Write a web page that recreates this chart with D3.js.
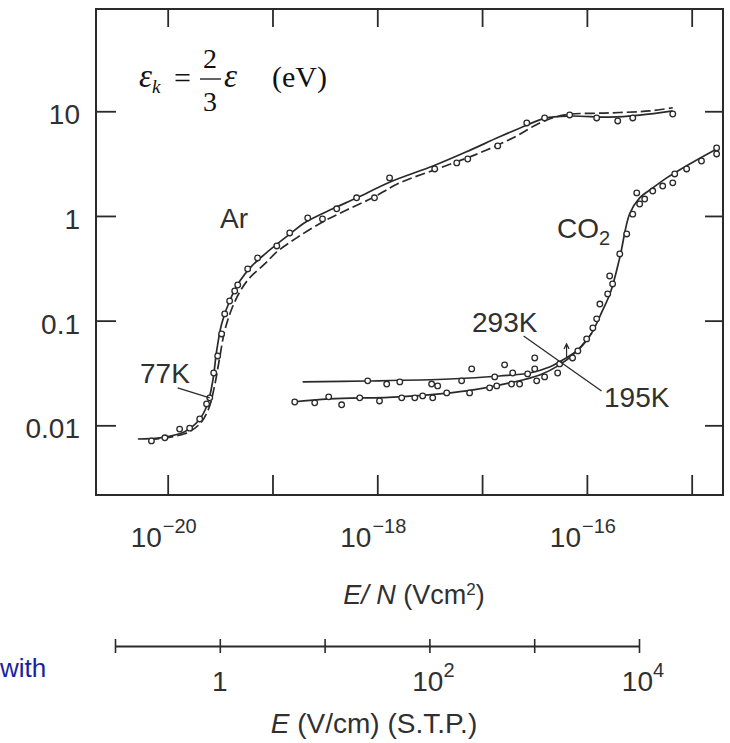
<!DOCTYPE html>
<html>
<head>
<meta charset="utf-8">
<script src="https://cdn.jsdelivr.net/npm/d3@7"></script>
<style>
  body { margin: 0; background: #fff; }
  svg { display: block; }
  text { font-family: "Liberation Sans", Arial, Helvetica, sans-serif; fill: #303030; }
  .serif { font-family: "Liberation Serif", "Times New Roman", serif; fill: #111; }
</style>
</head>
<body>
<svg id="chart" width="730" height="743"></svg>
<script>
// ---- axis ticks and labels ----
const enTicks = [1e-20, 1e-19, 1e-18, 1e-17, 1e-16, 1e-15];
const enLabels = [
  { v: 1e-20, exp: "\u221220" },
  { v: 1e-18, exp: "\u221218" },
  { v: 1e-16, exp: "\u221216" }
];
const epsTicks = [0.01, 0.1, 1, 10];
const epsLabels = ["0.01", "0.1", "1", "10"];
const fieldTicks = [0.1, 1, 10, 100, 1000, 1e4];
const fieldLabels = [
  { v: 1, base: "1", exp: "" },
  { v: 100, base: "10", exp: "2" },
  { v: 1e4, base: "10", exp: "4" }
];

// ---- Ar: mean energy vs E/N ----
const arSolid = [
  [5.2e-21, 0.0074], [8.4e-21, 0.0076], [1.45e-20, 0.0087], [2.0e-20, 0.0113],
  [2.4e-20, 0.016], [2.7e-20, 0.027], [2.93e-20, 0.051], [3.27e-20, 0.093],
  [3.9e-20, 0.154], [4.9e-20, 0.24], [6.3e-20, 0.33], [8.4e-20, 0.43],
  [1.46e-19, 0.67], [2.1e-19, 0.88], [3.75e-19, 1.17], [6.4e-19, 1.49],
  [1.31e-18, 2.1], [3.4e-18, 3.0], [7.1e-18, 4.1], [1.47e-17, 5.7],
  [2.7e-17, 7.4], [4.0e-17, 8.6], [6.9e-17, 9.0], [1.65e-16, 8.8],
  [3.2e-16, 9.2], [6.6e-16, 10.1]
];
const arDashed = [
  [6.7e-21, 0.0073], [1.45e-20, 0.0083], [2.02e-20, 0.0103], [2.46e-20, 0.0144],
  [2.8e-20, 0.0238], [3.13e-20, 0.044], [3.5e-20, 0.080], [4.08e-20, 0.129],
  [4.87e-20, 0.188], [6.05e-20, 0.256], [8.43e-20, 0.348], [1.1e-19, 0.453],
  [1.7e-19, 0.617], [3.01e-19, 0.877], [5.1e-19, 1.14], [9.0e-19, 1.49],
  [1.64e-18, 2.07], [3.94e-18, 2.87], [9.5e-18, 4.0], [2.05e-17, 5.68],
  [3.55e-17, 7.73], [6.14e-17, 9.22], [1.65e-16, 9.64], [3.97e-16, 10.07],
  [6.6e-16, 10.8]
];
const arPoints = [
  [7.0e-21, 0.0071], [9.4e-21, 0.0076], [1.3e-20, 0.0092], [1.62e-20, 0.0094],
  [2.02e-20, 0.0115], [2.35e-20, 0.016], [2.52e-20, 0.0183], [2.75e-20, 0.0316],
  [3.0e-20, 0.046], [3.27e-20, 0.0746], [3.5e-20, 0.116], [3.9e-20, 0.154],
  [4.36e-20, 0.192], [4.66e-20, 0.219], [5.8e-20, 0.312], [7.2e-20, 0.397],
  [1.1e-19, 0.517], [1.46e-19, 0.688], [2.17e-19, 0.957], [3.0e-19, 0.936],
  [4.1e-19, 1.17], [6.35e-19, 1.49], [9.4e-19, 1.49], [1.31e-18, 2.31],
  [3.53e-18, 2.81], [5.73e-18, 3.21], [7.3e-18, 3.5], [1.41e-17, 4.67],
  [2.67e-17, 7.73], [3.95e-17, 8.63], [6.85e-17, 9.22], [1.24e-16, 8.63],
  [1.97e-16, 8.08], [2.74e-16, 8.63], [6.6e-16, 9.42]
];

// ---- CO2 at 293 K and 195 K ----
const co2Curve293 = [
  [1.94e-19, 0.026], [7.9e-19, 0.0265], [4.9e-18, 0.0277], [1.47e-17, 0.0296],
  [2.85e-17, 0.0316], [4.4e-17, 0.036], [6.1e-17, 0.043], [8.5e-17, 0.054],
  [1.11e-16, 0.076], [1.38e-16, 0.119], [1.69e-16, 0.19], [2.06e-16, 0.40],
  [2.56e-16, 1.05], [3.19e-16, 1.49], [4.25e-16, 1.85], [5.77e-16, 2.31],
  [9.57e-16, 3.14], [1.73e-15, 4.37]
];
const co2Curve195 = [
  [1.56e-19, 0.0167], [3.5e-19, 0.0179], [1.64e-18, 0.0187], [7.1e-18, 0.0213],
  [1.83e-17, 0.0254], [3.55e-17, 0.0303], [5.5e-17, 0.0378], [7.65e-17, 0.049],
  [1.0e-16, 0.066], [1.11e-16, 0.076]
];
const co2Points293 = [
  [8.1e-19, 0.0266], [1.23e-18, 0.0248], [1.64e-18, 0.026], [3.3e-18, 0.0248],
  [3.77e-18, 0.0238], [6.38e-18, 0.0266], [7.96e-18, 0.0346], [1.32e-17, 0.029],
  [1.64e-17, 0.0378], [1.96e-17, 0.0316], [2.72e-17, 0.031], [3.18e-17, 0.0346],
  [3.18e-17, 0.044], [5.5e-17, 0.0386]
];
const co2Points195 = [
  [1.63e-19, 0.0167], [2.53e-19, 0.0164], [3.44e-19, 0.0187], [4.57e-19, 0.0157],
  [6.8e-19, 0.0183], [1.05e-18, 0.0171], [1.71e-18, 0.0183], [2.28e-18, 0.0183],
  [2.71e-18, 0.0191], [3.38e-18, 0.0183], [4.6e-18, 0.0204], [7.6e-18, 0.0204],
  [1.18e-17, 0.0228], [1.38e-17, 0.0238], [1.91e-17, 0.0248], [2.28e-17, 0.0248],
  [3.32e-17, 0.0266], [3.95e-17, 0.029], [5.26e-17, 0.0316]
];
const co2PointsHigh = [
  [7.3e-17, 0.044], [8.2e-17, 0.0514], [9.95e-17, 0.0669], [1.14e-16, 0.0851],
  [1.24e-16, 0.104], [1.33e-16, 0.144], [1.58e-16, 0.18], [1.65e-16, 0.267],
  [1.76e-16, 0.224], [2.06e-16, 0.434], [2.4e-16, 0.673], [2.74e-16, 1.04],
  [2.99e-16, 1.66], [3.19e-16, 1.3], [3.56e-16, 1.45], [4.25e-16, 1.73],
  [5.29e-16, 1.93], [6.6e-16, 2.07], [6.89e-16, 2.52], [8.95e-16, 2.81],
  [1.24e-15, 3.35], [1.73e-15, 4.46], [1.73e-15, 3.91]
];

// leader lines for the temperature labels and the marker arrow (data units)
const leader77 = [[1.245e-20, 0.0228], [2.52e-20, 0.0183]];
const leaderCO2 = [[2.49e-17, 0.0714], [1.38e-16, 0.0213]];
const arrowCO2 = [[6.4e-17, 0.060], [6.4e-17, 0.045]];

// ---- layout ----
const svg = d3.select("#chart");
const ink = "#2a2a2a";
const plot = { left: 96, right: 723, top: 9, bottom: 495 };

const x = d3.scaleLog().domain([2.07e-21, 1.99e-15]).range([plot.left, plot.right]);
const y = d3.scaleLog().domain([0.00216, 94.8]).range([plot.bottom, plot.top]);
const xField = d3.scaleLog().domain([0.1, 1e4]).range([115, 639]);

// frame ticks, pointing inward on all four sides
function styleAxis(g) {
  g.select(".domain").remove();
  g.selectAll(".tick line").attr("stroke", ink).attr("stroke-width", 1.8);
  g.selectAll(".tick text").remove();
}
svg.append("g").attr("transform", `translate(0,${plot.top})`)
  .call(d3.axisBottom(x).tickValues(enTicks).tickSize(18).tickFormat(""))
  .call(styleAxis);
svg.append("g").attr("transform", `translate(0,${plot.bottom})`)
  .call(d3.axisTop(x).tickValues(enTicks).tickSize(20).tickFormat(""))
  .call(styleAxis);
svg.append("g").attr("transform", `translate(${plot.left},0)`)
  .call(d3.axisRight(y).tickValues(epsTicks).tickSize(20).tickFormat(""))
  .call(styleAxis);
svg.append("g").attr("transform", `translate(${plot.right},0)`)
  .call(d3.axisLeft(y).tickValues(epsTicks).tickSize(18).tickFormat(""))
  .call(styleAxis);

svg.append("rect")
  .attr("x", plot.left).attr("y", plot.top)
  .attr("width", plot.right - plot.left).attr("height", plot.bottom - plot.top)
  .attr("fill", "none").attr("stroke", ink).attr("stroke-width", 2);

// y tick labels
svg.append("g").selectAll("text")
  .data(epsTicks)
  .join("text")
  .attr("x", 80)
  .attr("y", d => y(d) + 13)
  .attr("text-anchor", "end")
  .attr("font-size", 28)
  .text((d, i) => epsLabels[i]);

// x tick labels (powers of ten)
const enLab = svg.append("g").selectAll("text")
  .data(enLabels)
  .join("text")
  .attr("x", d => x(d.v) - 4)
  .attr("y", 547)
  .attr("text-anchor", "middle")
  .attr("font-size", 28);
enLab.append("tspan").text("10");
enLab.append("tspan").attr("dy", -14).attr("dx", 1).attr("font-size", 20)
  .text(d => d.exp);

// x axis title
const enTitle = svg.append("text")
  .attr("x", 414).attr("y", 604)
  .attr("text-anchor", "middle").attr("font-size", 27);
enTitle.append("tspan").attr("font-style", "italic").text("E/ N");
enTitle.append("tspan").text(" (Vcm");
enTitle.append("tspan").attr("dy", -9).attr("font-size", 17).text("2");
enTitle.append("tspan").attr("dy", 9).text(")");

// secondary field scale
const fieldAxis = svg.append("g").attr("transform", "translate(0,646)")
  .call(d3.axisBottom(xField).tickValues(fieldTicks).tickSizeOuter(0).tickFormat(""));
fieldAxis.select(".domain").attr("stroke", ink).attr("stroke-width", 1.8);
fieldAxis.selectAll(".tick line")
  .attr("y1", -7).attr("y2", 7)
  .attr("stroke", ink).attr("stroke-width", 1.6);

const fLab = svg.append("g").selectAll("text")
  .data(fieldLabels)
  .join("text")
  .attr("x", d => xField(d.v) + (d.exp ? 4 : 0))
  .attr("y", 691)
  .attr("text-anchor", "middle")
  .attr("font-size", 28);
fLab.append("tspan").text(d => d.base);
fLab.append("tspan").attr("dy", -14).attr("font-size", 20).text(d => d.exp);

const fTitle = svg.append("text")
  .attr("x", 374).attr("y", 733)
  .attr("text-anchor", "middle").attr("font-size", 28);
fTitle.append("tspan").attr("font-style", "italic").text("E");
fTitle.append("tspan").text(" (V/cm) (S.T.P.)");

svg.append("text")
  .attr("x", 0).attr("y", 677)
  .attr("font-size", 26)
  .style("fill", "#1a1fa3")
  .text("with");

// ---- curves ----
const line = d3.line()
  .x(d => x(d[0]))
  .y(d => y(d[1]))
  .curve(d3.curveCatmullRom.alpha(0.5));

const curves = svg.append("g").attr("fill", "none").attr("stroke", ink);
curves.append("path").attr("d", line(arSolid)).attr("stroke-width", 1.7);
curves.append("path").attr("d", line(arDashed)).attr("stroke-width", 1.7)
  .attr("stroke-dasharray", "10,4");
curves.append("path").attr("d", line(co2Curve293)).attr("stroke-width", 1.7);
curves.append("path").attr("d", line(co2Curve195)).attr("stroke-width", 1.7);

// ---- measured points ----
const allPoints = [].concat(arPoints, co2Points293, co2Points195, co2PointsHigh);
svg.append("g").selectAll("circle")
  .data(allPoints)
  .join("circle")
  .attr("cx", d => x(d[0]))
  .attr("cy", d => y(d[1]))
  .attr("r", 2.8)
  .attr("fill", "#fff")
  .attr("stroke", ink)
  .attr("stroke-width", 1.3);

// ---- annotations ----
const straight = d3.line().x(d => x(d[0])).y(d => y(d[1]));
svg.append("path").attr("d", straight(leader77))
  .attr("fill", "none").attr("stroke", ink).attr("stroke-width", 1.3);
svg.append("path").attr("d", straight(leaderCO2))
  .attr("fill", "none").attr("stroke", ink).attr("stroke-width", 1.3);

const ax = x(arrowCO2[0][0]), ay0 = y(arrowCO2[0][1]), ay1 = y(arrowCO2[1][1]);
svg.append("path")
  .attr("d", `M${ax},${ay0}L${ax},${ay1}M${ax - 2.5},${ay0 + 5}L${ax},${ay0}L${ax + 2.5},${ay0 + 5}`)
  .attr("fill", "none").attr("stroke", ink).attr("stroke-width", 1.2);

svg.append("text").attr("x", 140).attr("y", 383).attr("font-size", 28).text("77K");
svg.append("text").attr("x", 472).attr("y", 332).attr("font-size", 28).text("293K");
svg.append("text").attr("x", 604).attr("y", 407).attr("font-size", 28).text("195K");
svg.append("text").attr("x", 220).attr("y", 228).attr("font-size", 28).text("Ar");
const co2 = svg.append("text").attr("x", 557).attr("y", 238).attr("font-size", 28);
co2.append("tspan").text("CO");
co2.append("tspan").attr("dy", 7).attr("font-size", 20).text("2");

// ---- formula for the characteristic energy ----
const eq = svg.append("g").attr("class", "eq");
const epsK = eq.append("text").attr("class", "serif").attr("x", 139).attr("y", 87).attr("font-size", 33);
epsK.append("tspan").attr("font-style", "italic").text("\u03b5");
epsK.append("tspan").attr("font-style", "italic").attr("dy", 6).attr("font-size", 19).text("k");
eq.append("text").attr("class", "serif").attr("x", 174).attr("y", 88).attr("font-size", 30).text("=");
eq.append("text").attr("class", "serif").attr("x", 210).attr("y", 68).attr("font-size", 28)
  .attr("text-anchor", "middle").text("2");
eq.append("line").attr("x1", 200).attr("x2", 221).attr("y1", 79).attr("y2", 79)
  .attr("stroke", "#111").attr("stroke-width", 1.3);
eq.append("text").attr("class", "serif").attr("x", 210).attr("y", 111).attr("font-size", 28)
  .attr("text-anchor", "middle").text("3");
eq.append("text").attr("class", "serif").attr("x", 224).attr("y", 87).attr("font-size", 33)
  .attr("font-style", "italic").text("\u03b5");
eq.append("text").attr("class", "serif").attr("x", 272).attr("y", 87).attr("font-size", 30)
  .text("(eV)");
</script>
</body>
</html>
